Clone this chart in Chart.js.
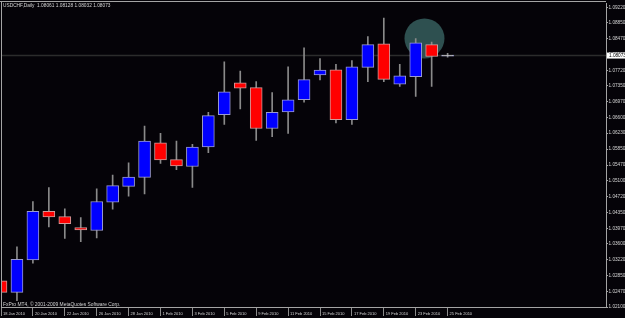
<!DOCTYPE html>
<html lang="en">
<head>
    <meta charset="UTF-8">
    <title>USDCHF Daily</title>
    <script src="https://cdn.jsdelivr.net/npm/chart.js"></script>
    <style>
        html, body { margin: 0; padding: 0; background: #050308; }
        canvas { display: block; }
    </style>
</head>
<body>
    <canvas id="myChart" width="625" height="318"></canvas>

    <script>
        // daily bars, 18 Jan 2010 .. 25 Feb 2010
        const dates = ['18 Jan 2010', '19 Jan 2010', '20 Jan 2010', '21 Jan 2010', '22 Jan 2010',
            '25 Jan 2010', '26 Jan 2010', '27 Jan 2010', '28 Jan 2010', '29 Jan 2010',
            '1 Feb 2010', '2 Feb 2010', '3 Feb 2010', '4 Feb 2010', '5 Feb 2010',
            '8 Feb 2010', '9 Feb 2010', '10 Feb 2010', '11 Feb 2010', '12 Feb 2010',
            '15 Feb 2010', '16 Feb 2010', '17 Feb 2010', '18 Feb 2010', '19 Feb 2010',
            '22 Feb 2010', '23 Feb 2010', '24 Feb 2010', '25 Feb 2010'];
        const opens = [1.02724, 1.02448, 1.03218, 1.04371, 1.04247, 1.03988, 1.03917, 1.04590, 1.04967, 1.05179,
            1.06002, 1.05602, 1.05438, 1.05901, 1.06671, 1.07424, 1.07313, 1.06341, 1.06732, 1.07024,
            1.07612, 1.07737, 1.06553, 1.07791, 1.08349, 1.07391, 1.07572, 1.08333, 1.08061];
        const highs = [1.02888, 1.03531, 1.04607, 1.04936, 1.04435, 1.04223, 1.04906, 1.05235, 1.05525, 1.06396,
            1.06224, 1.06042, 1.05965, 1.06725, 1.07925, 1.07707, 1.07455, 1.07196, 1.07808, 1.08255,
            1.08003, 1.07862, 1.07956, 1.08521, 1.08961, 1.07862, 1.08474, 1.08396, 1.08128];
        const lows = [1.02300, 1.02253, 1.03140, 1.04002, 1.03729, 1.03649, 1.03743, 1.04426, 1.04731, 1.04788,
            1.05508, 1.05360, 1.04943, 1.05767, 1.06436, 1.06803, 1.06059, 1.06144, 1.06224, 1.06968,
            1.07495, 1.06473, 1.06436, 1.07455, 1.07455, 1.07337, 1.07102, 1.07337, 1.08032];
        const closes = [1.02448, 1.03235, 1.04371, 1.04237, 1.04082, 1.03931, 1.04607, 1.04983, 1.05188, 1.06042,
            1.05595, 1.05454, 1.05901, 1.06647, 1.07212, 1.07297, 1.06341, 1.06725, 1.07024, 1.07502,
            1.07730, 1.06553, 1.07808, 1.08333, 1.07509, 1.07589, 1.08373, 1.08050, 1.08073];

        // price scale labels on the right
        const priceTicks = [1.02100, 1.02470, 1.02850, 1.03220, 1.03600, 1.03970, 1.04350, 1.04720, 1.05100, 1.05470,
            1.05850, 1.06230, 1.06600, 1.06970, 1.07350, 1.07720, 1.08100, 1.08470, 1.08850, 1.09220];

        const symbol = 'USDCHF,Daily';
        const copyright = 'FxPro MT4, \u00a9 2001-2009 MetaQuotes Software Corp.';
        // highlight circle drawn on the chart (bar index, price, radius)
        const marker = { x: 26.55, y: 1.0848, r: 20 };

        const last = dates.length - 1;
        const lastClose = closes[last];
        const font = 'Liberation Sans';
        const textColor = '#d4d4d4';
        const frameColor = '#a4a4a4';

        const bodyColor = function(i) {
            if (Math.abs(closes[i] - opens[i]) < 0.0002) return '#c8c8c8';
            return closes[i] >= opens[i] ? '#0000ff' : '#ff0000';
        };

        // background, frame, title and price marker
        const mt4Plugin = {
            id: 'mt4',
            beforeDraw(chart) {
                const ctx = chart.ctx;
                ctx.save();
                ctx.fillStyle = '#050308';
                ctx.fillRect(0, 0, chart.width, chart.height);
                ctx.restore();
            },
            afterDatasetsDraw(chart) {
                const ctx = chart.ctx;
                const a = chart.chartArea;
                ctx.save();
                ctx.strokeStyle = frameColor;
                ctx.lineWidth = 1;
                ctx.beginPath();
                ctx.moveTo(0, 1.5);
                ctx.lineTo(a.right, 1.5);
                ctx.moveTo(1.5, 1);
                ctx.lineTo(1.5, a.bottom);
                ctx.stroke();

                ctx.fillStyle = textColor;
                ctx.textBaseline = 'middle';
                ctx.font = '4.8px "' + font + '"';
                const title = symbol + '  ' + [opens[last], highs[last], lows[last], closes[last]]
                    .map(v => v.toFixed(5)).join(' ');
                ctx.fillText(title, 3, 5.5);
                ctx.font = '4.9px "' + font + '"';
                ctx.fillText(copyright, 3, 304.5);
                ctx.restore();
            },
            afterDraw(chart) {
                const ctx = chart.ctx;
                const yScale = chart.scales.y;
                const y = yScale.getPixelForValue(lastClose);
                ctx.save();
                ctx.fillStyle = '#ffffff';
                ctx.fillRect(chart.chartArea.right + 1, y - 3, 19, 6);
                ctx.fillStyle = '#000000';
                ctx.textBaseline = 'middle';
                ctx.font = '4.7px "' + font + '"';
                ctx.fillText(lastClose.toFixed(5), chart.chartArea.right + 3, y + 0.3);
                ctx.restore();
            }
        };

        const data = {
            datasets: [
                {
                    type: 'bar',
                    label: 'body',
                    data: dates.map((d, i) => ({ x: i, y: [opens[i], closes[i]] })),
                    backgroundColor: dates.map((d, i) => bodyColor(i)),
                    borderColor: dates.map((d, i) => closes[i] >= opens[i] ? '#9a9ad0' : '#d09a9a'),
                    borderWidth: 1,
                    borderSkipped: false,
                    barThickness: 12,
                    minBarLength: 1,
                    grouped: false,
                    order: 1
                },
                {
                    type: 'bar',
                    label: 'wick',
                    data: dates.map((d, i) => ({ x: i, y: [lows[i], highs[i]] })),
                    backgroundColor: '#8a8a8a',
                    borderWidth: 0,
                    barThickness: 1,
                    grouped: false,
                    order: 2
                },
                {
                    type: 'bubble',
                    label: 'marker',
                    data: [marker],
                    backgroundColor: '#2e5050',
                    borderWidth: 0,
                    order: 5
                },
                {
                    type: 'line',
                    label: 'price',
                    data: [{ x: -1, y: lastClose }, { x: 40, y: lastClose }],
                    borderColor: '#2c2c2c',
                    borderWidth: 1.5,
                    pointRadius: 0,
                    order: 10
                }
            ]
        };

        const config = {
            type: 'bar',
            data: data,
            plugins: [mt4Plugin],
            options: {
                responsive: false,
                animation: false,
                devicePixelRatio: 1,
                layout: { autoPadding: false, padding: { left: 1, top: 1, right: 0, bottom: 0 } },
                plugins: {
                    legend: { display: false },
                    tooltip: { enabled: false }
                },
                scales: {
                    x: {
                        type: 'linear',
                        min: 0,
                        max: 37.93,
                        offset: false,
                        afterBuildTicks: scale => {
                            scale.ticks = dates.map((d, i) => i).filter(i => i % 2 === 0).map(v => ({ value: v }));
                        },
                        afterFit: scale => { scale.height = 11; },
                        grid: {
                            offset: false,
                            drawOnChartArea: false,
                            drawTicks: true,
                            tickLength: 9,
                            color: '#8c8c8c'
                        },
                        border: { display: true, color: frameColor },
                        ticks: {
                            autoSkip: false,
                            maxRotation: 0,
                            align: 'start',
                            labelOffset: 2,
                            padding: -4.5,
                            color: textColor,
                            font: { family: font, size: 4 },
                            callback: v => dates[v] || ''
                        }
                    },
                    y: {
                        type: 'linear',
                        position: 'right',
                        min: 1.021,
                        max: 1.09314,
                        afterBuildTicks: scale => {
                            scale.ticks = priceTicks.map(v => ({ value: v }));
                        },
                        afterFit: scale => { scale.width = 19; },
                        grid: {
                            drawOnChartArea: false,
                            drawTicks: true,
                            tickLength: 2,
                            color: frameColor
                        },
                        border: { display: true, color: frameColor },
                        ticks: {
                            padding: 0.5,
                            color: textColor,
                            font: { family: font, size: 4.7 },
                            callback: v => v.toFixed(5)
                        }
                    }
                }
            }
        };

        const myChart = new Chart(document.getElementById('myChart'), config);
    </script>
</body>
</html>
